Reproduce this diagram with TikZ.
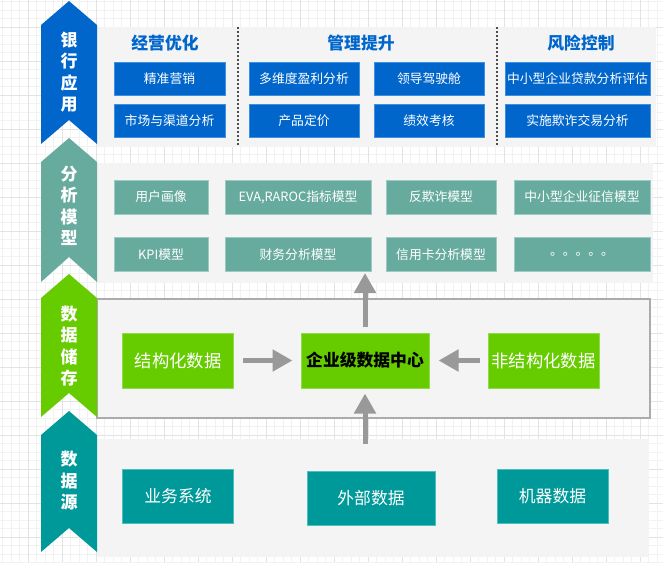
\documentclass[tikz,border=0pt]{standalone}
\usepackage{fontspec}
\setmainfont{Noto Sans CJK SC}
\usetikzlibrary{arrows.meta}
\definecolor{bankblue}{HTML}{0066CC}
\definecolor{bankedge}{HTML}{3F8FE0}
\definecolor{modelteal}{HTML}{67AB9F}
\definecolor{modeledge}{HTML}{9CCBC2}
\definecolor{storegreen}{HTML}{66CC00}
\definecolor{storeedge}{HTML}{8FDB4A}
\definecolor{srcteal}{HTML}{009999}
\definecolor{srcedge}{HTML}{4DBDBD}
\definecolor{panelgray}{HTML}{F4F4F4}
\definecolor{arrowgray}{HTML}{999999}

\begin{document}
\begin{tikzpicture}[x=0.75pt,y=-0.75pt,
		minorline/.style={draw=black!5,line width=0.75pt},
		majorline/.style={draw=black!11,line width=0.75pt},
		rtext/.style={text=white,align=center,font=\fontsize{12.75}{16.1}\selectfont\bfseries},
		head/.style={text=bankblue,font=\fontsize{12.6}{14}\selectfont\bfseries},
		box/.style 2 args={minimum width=#1*0.75pt,minimum height=#2*0.75pt,inner sep=0pt,line width=0.75pt},
		bluebox/.style={box={#1}{33},draw=bankedge,fill=bankblue,text=white,font=\fontsize{9.6}{11}\selectfont},
		tealbox/.style={box={#1}{34},draw=modeledge,fill=modelteal,text=white,font=\fontsize{9.6}{11}\selectfont},
		greenbox/.style={box={#1}{55},draw=storeedge,fill=storegreen,text=white,font=\fontsize{13}{15}\selectfont},
		srcbox/.style={box={#1}{54},draw=srcedge,fill=srcteal,text=white,font=\fontsize{12.6}{14}\selectfont},
		divider/.style={draw=black!70,line width=0.9pt,dash pattern=on 1.5pt off 1.5pt},
		flow/.style={draw=arrowgray,line width=3.75pt,-{Triangle[width=15.75pt,length=15pt]}}]
	\useasboundingbox (0,0) rectangle (663,562);
	% grid
	\foreach \i in {0,...,77} \draw[minorline] ({2.5+8.5*\i},0) -- ({2.5+8.5*\i},562);
	\foreach \i in {0,...,66} \draw[minorline] (0,{1.8+8.5*\i}) -- (663,{1.8+8.5*\i});
	\foreach \i in {0,...,19} \draw[majorline] ({28+34*\i},0) -- ({28+34*\i},562);
	\foreach \i in {0,...,16} \draw[majorline] (0,{27.3+34*\i}) -- (663,{27.3+34*\i});
	% panels
	\fill[panelgray] (97,27) rectangle (656,147);
	\fill[panelgray] (97,163) rectangle (653,283);
	\filldraw[fill=panelgray,draw=black!33,line width=1.1pt] (97,299) rectangle (650,418);
	\fill[panelgray] (97,439) rectangle (649,557);
	% ribbons
	\fill[bankblue] (41,25) -- (69,1) -- (97,25) -- (97,144) -- (69,120) -- (41,144) -- cycle;
	\fill[modelteal] (41,162) -- (69,138) -- (97,162) -- (97,282) -- (69,257) -- (41,282) -- cycle;
	\fill[storegreen] (41,298) -- (69,274) -- (97,298) -- (97,417) -- (69,393) -- (41,417) -- cycle;
	\fill[srcteal] (41,435) -- (69,411) -- (97,435) -- (97,552) -- (69,528) -- (41,552) -- cycle;
	\node[rtext] (lbank) at (69,72) {银\\行\\应\\用};
	\node[rtext] (lmodel) at (69,206) {分\\析\\模\\型};
	\node[rtext] (lstore) at (69,346) {数\\据\\储\\存};
	\node[rtext] (lsrc) at (69,481) {数\\据\\源};

	\node[head] (hops) at (165,43) {经营优化};
	\node[head] (hmgmt) at (361,43) {管理提升};
	\node[head] (hrisk) at (581,43) {风险控制};
	\draw[divider] (238,27) -- (238,147);
	\draw[divider] (497,27) -- (497,147);

	\node[bluebox=111] (market) at (169.5,78.5) {精准营销};
	\node[bluebox=111] (channel) at (169.5,121) {市场与渠道分析};
	\node[bluebox=110] (profit) at (304,78.5) {多维度盈利分析};
	\node[bluebox=110] (pricing) at (304,121) {产品定价};
	\node[bluebox=110] (cockpit) at (429,78.5) {领导驾驶舱};
	\node[bluebox=110] (perf) at (429,121) {绩效考核};
	\node[bluebox=145] (smeloan) at (577.5,78.5) {中小型企业贷款分析评估};
	\node[bluebox=145] (fraudtx) at (577.5,121) {实施欺诈交易分析};

	\node[tealbox=94] (portrait) at (161,197) {用户画像};
	\node[tealbox=146] (eva) at (298,197) {EVA,RAROC指标模型};
	\node[tealbox=110] (antifraud) at (441,197) {反欺诈模型};
	\node[tealbox=136] (smecredit) at (582,197) {中小型企业征信模型};
	\node[tealbox=94] (kpi) at (161,254.5) {KPI模型};
	\node[tealbox=146] (finance) at (298,254.5) {财务分析模型};
	\node[tealbox=110] (card) at (441,254.5) {信用卡分析模型};
	\node[tealbox=136] (more) at (582,254.5) {。。。。。};

	\node[greenbox=111] (struct) at (178,360.5) {结构化数据};
	\node[greenbox=128,text=black,font=\fontsize{12.6}{14}\selectfont\bfseries] (hub) at (365,360.5) {企业级数据中心};
	\node[greenbox=111] (unstruct) at (543.5,360.5) {非结构化数据};

	\node[srcbox=111] (biz) at (178,496) {业务系统};
	\node[srcbox=128] (ext) at (371,498) {外部数据};
	\node[srcbox=111] (machine) at (552.5,496) {机器数据};

	\draw[flow,shorten <=6.75pt,shorten >=6pt] (struct) -- (hub);
	\draw[flow,shorten <=6pt,shorten >=6.75pt] (unstruct) -- (hub);
	\draw[flow,shorten <=4.5pt,shorten >=0.75pt] (hub.north) -- (hub.north |- finance.south);
	\draw[flow,shorten <=20.25pt,shorten >=3.75pt] (hub.south |- ext.north) -- (hub.south);
\end{tikzpicture}
\end{document}
